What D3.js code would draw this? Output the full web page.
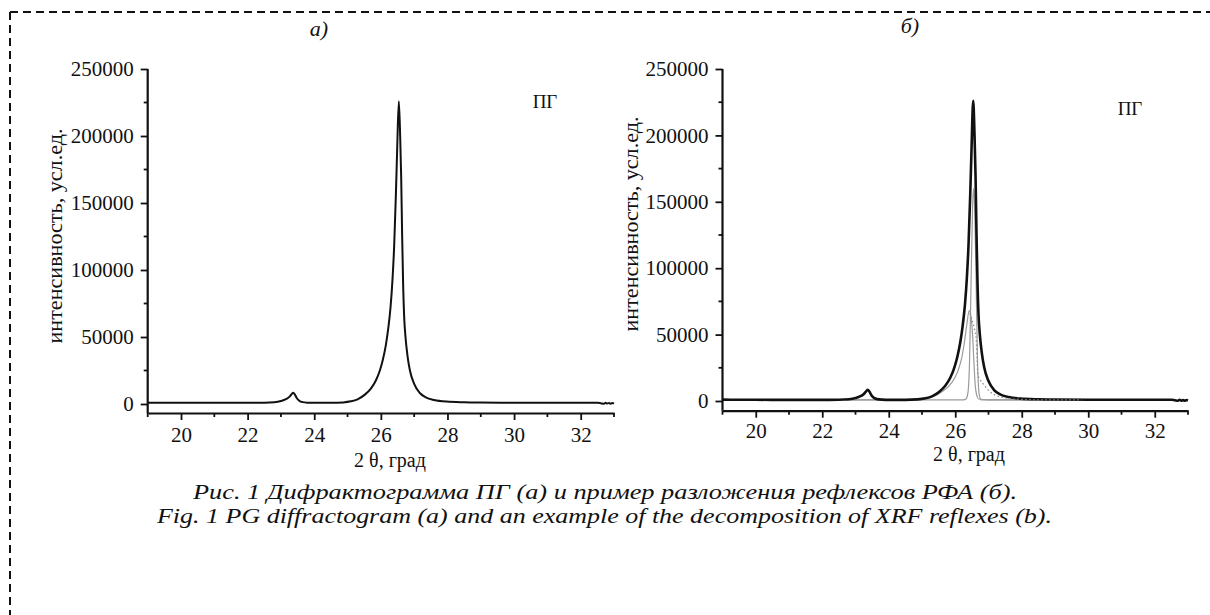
<!DOCTYPE html>
<html><head><meta charset="utf-8">
<script src="https://cdn.jsdelivr.net/npm/d3@7/dist/d3.min.js"></script>
<style>
body{margin:0;background:#fff}
text{font-family:"Liberation Serif","Times New Roman",serif;fill:#111}
</style>
</head><body>
<svg id="c" width="1210" height="615"></svg>
<script>
// ---- data ----
const xTicks = [20, 22, 24, 26, 28, 30, 32];
const xMinorTicks = [19, 21, 23, 25, 27, 29, 31, 33];
const yTicks = [0, 50000, 100000, 150000, 200000, 250000];
const yMinorTicks = [25000, 75000, 125000, 175000, 225000];

// measured diffractogram (2θ, intensity)
const theta = [19.0,19.5,20.0,21.0,22.0,22.5,22.8,23.0,23.15,23.25,23.32,23.37,23.42,23.48,23.55,23.65,23.8,24.0,24.5,24.87,25.1,25.3,25.52,25.7,25.85,25.97,26.06,26.15,26.22,26.29,26.35,26.4,26.45,26.49,26.54,26.58,26.61,26.64,26.67,26.7,26.74,26.8,26.87,27.0,27.17,27.35,27.6,27.97,28.5,29.0,30.0,31.0,32.0,32.5,32.6,32.7,32.75,32.8,32.85,32.9,32.95,33.0];
const intensity = [1000,950,900,850,850,950,1300,2200,3600,5300,7300,8400,7000,4300,2400,1400,1000,850,850,1200,2000,3500,7000,11500,17500,25000,33000,44000,56000,72000,93000,118000,155000,190000,226000,200000,170000,125000,88000,65000,50000,36000,25400,15000,8200,5000,3000,1800,1300,1100,950,900,900,900,600,200,900,300,800,200,700,400];

// fitted components (panel б)
const broadTheta = [22.7,24.0,25.0,25.4,25.6,25.8,26.0,26.1,26.2,26.28,26.35,26.42,26.47,26.52,26.56,26.6,26.65,26.7,27.0,29.8];
const broadInt   = [800,800,1500,4000,7000,11000,18000,24000,33000,45000,58000,68000,64000,50000,30000,12000,4000,1500,900,800];
const narrowTheta = [22.7,26.25,26.32,26.38,26.43,26.48,26.52,26.55,26.58,26.62,26.67,26.72,26.78,29.8];
const narrowInt   = [800,800,1500,6000,30000,95000,145000,160000,148000,100000,30000,5000,800,800];
const dottedTheta = [26.44,26.52,26.58,26.63,26.66,26.68,26.75,26.87,27.0,27.3,27.8,28.5,29.8];
const dottedInt   = [66000,60000,54000,46000,30000,20000,16000,12000,8000,3500,1500,900,800];

const panelTitles = ["а)", "б)"];
const xLabel = "2 θ, град";
const yLabel = "интенсивность, усл.ед.";
const sampleLabel = "ПГ";
const caption1 = "Рис. 1 Дифрактограмма ПГ (а) и пример разложения рефлексов РФА (б).";
const caption2 = "Fig. 1 PG diffractogram (a) and an example of the decomposition of XRF reflexes (b).";

// ---- drawing ----
const svg = d3.select("#c");
const measured = theta.map((t, i) => [t, intensity[i]]);
const zip = (a, b) => a.map((t, i) => [t, b[i]]);

// dashed frame
svg.append("line").attr("x1", 10).attr("y1", 12).attr("x2", 1210).attr("y2", 12)
  .attr("stroke", "#111").attr("stroke-width", 2).attr("stroke-dasharray", "8,5");
svg.append("line").attr("x1", 10).attr("y1", 12).attr("x2", 10).attr("y2", 615)
  .attr("stroke", "#111").attr("stroke-width", 2).attr("stroke-dasharray", "8,5");

const panels = [
  {x0: 147.7, x1: 614, zero: 404, top: 69, axisY: 413, title: [319, 36], pg: [545, 108],
   ylab: [62, 236], xlab: [390, 467], lw: 2, tickBase: 442},
  {x0: 722.5, x1: 1188, zero: 401, top: 69, axisY: 410.7, title: [910, 33], pg: [1130, 115],
   ylab: [638, 224], xlab: [969, 461], lw: 2.6, tickBase: 438}
];

panels.forEach((p, idx) => {
  const yMin = -(p.axisY - p.zero) / (p.zero - p.top) * 250000;
  const x = d3.scaleLinear().domain([19, 33]).range([p.x0, p.x1]);
  const y = d3.scaleLinear().domain([yMin, 250000]).range([p.axisY, p.top]);
  const g = svg.append("g");

  // x axis
  const xa = g.append("g").attr("transform", `translate(0,${p.axisY})`)
    .call(d3.axisBottom(x).tickValues(xTicks).tickSize(7).tickSizeOuter(0).tickPadding(6));
  xa.append("g").selectAll("line").data(xMinorTicks).join("line")
    .attr("x1", d => x(d)).attr("x2", d => x(d)).attr("y1", 0).attr("y2", 4);
  // y axis
  const ya = g.append("g").attr("transform", `translate(${p.x0},0)`)
    .call(d3.axisLeft(y).tickValues(yTicks).tickSize(7).tickSizeOuter(0).tickPadding(7).tickFormat(d3.format("d")));
  ya.append("g").selectAll("line").data(yMinorTicks).join("line")
    .attr("y1", d => y(d)).attr("y2", d => y(d)).attr("x1", 0).attr("x2", -4);

  [xa, ya].forEach(a => {
    a.select(".domain").attr("stroke", "#111").attr("stroke-width", 2.2);
    a.selectAll("line").attr("stroke", "#111").attr("stroke-width", 1.8);
    a.selectAll("text").attr("font-size", 21).attr("fill", "#111")
      .attr("font-family", '"Liberation Serif","Times New Roman",serif');
  });
  ya.select(".domain").attr("d", `M0,${p.axisY}V${p.top}`);
  xa.selectAll(".tick text").attr("dy", null).attr("y", p.tickBase - p.axisY);

  const line = d3.line().x(d => x(d[0])).y(d => y(d[1])).curve(d3.curveMonotoneX);

  if (idx === 1) {
    g.append("path").datum(zip(broadTheta, broadInt)).attr("d", line)
      .attr("fill", "none").attr("stroke", "#9a9a9a").attr("stroke-width", 1.2);
    g.append("path").datum(zip(narrowTheta, narrowInt)).attr("d", line)
      .attr("fill", "none").attr("stroke", "#9a9a9a").attr("stroke-width", 1.2);
  }
  g.append("path").datum(measured).attr("d", line)
    .attr("fill", "none").attr("stroke", "#111").attr("stroke-width", p.lw)
    .attr("stroke-linejoin", "round");
  if (idx === 1) {
    g.append("path").datum(zip(dottedTheta, dottedInt)).attr("d", line)
      .attr("fill", "none").attr("stroke", "#8a8a8a").attr("stroke-width", 1.2)
      .attr("stroke-dasharray", "1.5,2.5");
  }

  // labels
  g.append("text").attr("x", p.title[0]).attr("y", p.title[1]).attr("text-anchor", "middle")
    .attr("font-size", 22).attr("font-style", "italic").text(panelTitles[idx]);
  g.append("text").attr("x", p.pg[0]).attr("y", p.pg[1]).attr("text-anchor", "middle")
    .attr("font-size", 19).text(sampleLabel);
  g.append("text").attr("transform", `translate(${p.ylab[0]},${p.ylab[1]}) rotate(-90)`)
    .attr("text-anchor", "middle").attr("font-size", 20)
    .attr("textLength", 215).attr("lengthAdjust", "spacingAndGlyphs").text(yLabel);
  g.append("text").attr("x", p.xlab[0]).attr("y", p.xlab[1]).attr("text-anchor", "middle")
    .attr("font-size", 20).text(xLabel);
});

svg.append("text").attr("x", 605).attr("y", 499).attr("text-anchor", "middle")
  .attr("font-size", 21).attr("font-style", "italic")
  .attr("textLength", 824).attr("lengthAdjust", "spacingAndGlyphs").text(caption1);
svg.append("text").attr("x", 604.5).attr("y", 523).attr("text-anchor", "middle")
  .attr("font-size", 21).attr("font-style", "italic")
  .attr("textLength", 895).attr("lengthAdjust", "spacingAndGlyphs").text(caption2);
</script>
</body></html>
